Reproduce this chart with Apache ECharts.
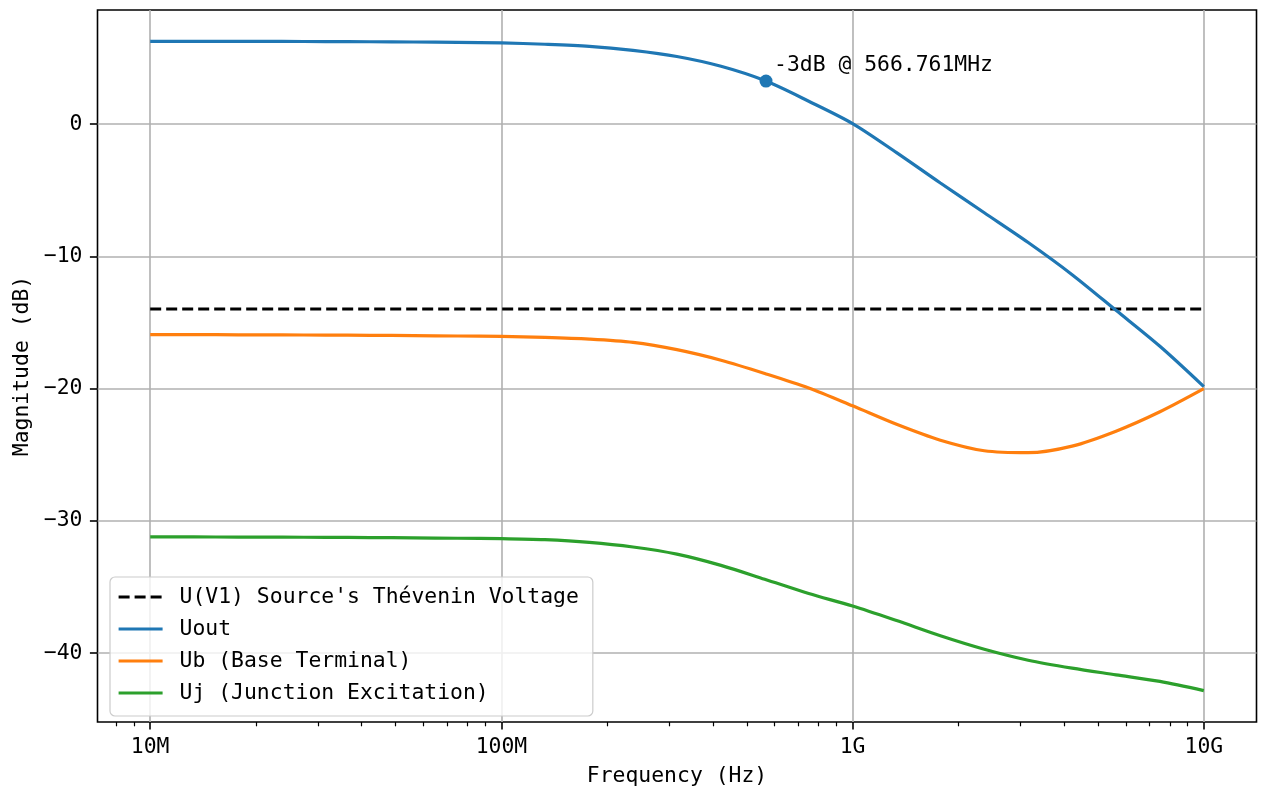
<!DOCTYPE html>
<html>
<head>
<meta charset="utf-8">
<script src="https://cdn.jsdelivr.net/npm/echarts@6/dist/echarts.min.js"></script>
<style>
  html, body { margin: 0; padding: 0; background: #ffffff; }
  #chart { width: 1261px; height: 792px; }
</style>
</head>
<body>
<div id="chart"></div>
<script>
// Frequency response of the transistor stage (magnitudes in dB)

// Sample frequencies (Hz), eight per decade from 10 MHz to 10 GHz
const freqHz = [
  10.0e6, 13.3e6, 17.8e6, 23.7e6, 31.6e6, 42.2e6, 56.2e6, 75.0e6,
  100e6, 133e6, 178e6, 237e6, 316e6, 422e6, 562e6, 750e6,
  1.000e9, 1.334e9, 1.778e9, 2.371e9, 3.162e9, 4.217e9, 5.623e9, 7.499e9,
  10.0e9
];

// Thevenin source voltage level (flat reference)
const thevFreq = [10e6, 10e9];
const thevDb = [-13.98, -13.98];

// Output node
const uoutDb = [
  6.26, 6.26, 6.26, 6.26, 6.25, 6.24, 6.22, 6.19,
  6.15, 6.05, 5.89, 5.58, 5.12, 4.38, 3.30, 1.74,
  0.05, -2.15, -4.45, -6.70, -8.95, -11.38, -14.08, -16.80,
  -19.85
];

// Base terminal
const ubDb = [
  -15.92, -15.92, -15.93, -15.94, -15.95, -15.97, -15.99, -16.02,
  -16.05, -16.12, -16.25, -16.50, -17.05, -17.85, -18.85, -19.95,
  -21.30, -22.70, -23.90, -24.70, -24.85, -24.35, -23.22, -21.75,
  -20.00
];

// Junction excitation
const ujDb = [
  -31.22, -31.22, -31.23, -31.24, -31.25, -31.27, -31.29, -31.32,
  -31.35, -31.43, -31.63, -31.98, -32.52, -33.37, -34.42, -35.50,
  -36.45, -37.55, -38.70, -39.72, -40.55, -41.15, -41.65, -42.15,
  -42.85
];

// -3 dB corner of the output
const cornerFreq = 566.761e6;

const seriesNames = ["U(V1) Source's Th\u00e9venin Voltage", 'Uout', 'Ub (Base Terminal)', 'Uj (Junction Excitation)'];

// Axis ticks
const xMajor = [1e7, 1e8, 1e9, 1e10];
const xMajorLabels = ['10M', '100M', '1G', '10G'];
const yTicks = [-40, -30, -20, -10, 0];

const X_MIN = Math.pow(10, 6.85);
const X_MAX = Math.pow(10, 10.15);

const xMinor = [];
for (let e = 6; e <= 9; e++) {
  for (let m = 2; m <= 9; m++) {
    const v = m * Math.pow(10, e);
    if (v > X_MIN && v < X_MAX) xMinor.push(v);
  }
}

const FONT = '"DejaVu Sans Mono", monospace';
const FS = 21.4;
const LW = 3.2;

const pairs = (xs, ys) => xs.map((x, i) => [x, ys[i]]);

const chart = echarts.init(document.getElementById('chart'), null, { renderer: 'canvas' });

const xBase = {
  type: 'log',
  logBase: 10,
  min: X_MIN,
  max: X_MAX,
  position: 'bottom',
  axisLine: { show: false, onZero: false }
};

chart.setOption({
  animation: false,
  backgroundColor: '#ffffff',
  textStyle: { fontFamily: FONT },
  grid: {
    left: 97.5, right: 4.5, top: 10, bottom: 67,
    show: true, borderColor: '#000000', borderWidth: 1.6, backgroundColor: '#ffffff'
  },
  legend: {
    data: seriesNames,
    orient: 'vertical',
    left: 110, top: 577,
    padding: [9, 14, 12, 7],
    itemWidth: 44, itemHeight: 22, itemGap: 10,
    backgroundColor: 'rgba(255,255,255,0.8)',
    borderColor: '#cccccc', borderWidth: 1.2, borderRadius: 5,
    itemStyle: { opacity: 0, borderWidth: 0 },
    lineStyle: { width: LW },
    textStyle: { fontFamily: FONT, fontSize: FS, color: '#000000', lineHeight: 22, padding: [0, 0, 0, 12] }
  },
  xAxis: [
    Object.assign({}, xBase, {
      name: 'Frequency (Hz)',
      nameLocation: 'middle',
      nameGap: 44,
      nameTextStyle: { fontFamily: FONT, fontSize: FS, color: '#000000' },
      axisTick: { customValues: xMajor, length: 7.6, lineStyle: { color: '#000000', width: 1.6 } },
      axisLabel: {
        customValues: xMajor, margin: 15,
        fontFamily: FONT, fontSize: FS, color: '#000000',
        formatter: v => xMajorLabels[xMajor.findIndex(t => Math.abs(Math.log10(t) - Math.log10(v)) < 1e-6)] || ''
      },
      splitLine: { show: true, lineStyle: { color: '#b0b0b0', width: 1.6 } },
      minorTick: { show: false },
      minorSplitLine: { show: false }
    }),
    Object.assign({}, xBase, {
      axisTick: { customValues: xMinor, length: 4.3, lineStyle: { color: '#000000', width: 1.2 } },
      axisLabel: { show: false },
      splitLine: { show: false }
    })
  ],
  yAxis: {
    type: 'value',
    min: -45.22, max: 8.64,
    name: 'Magnitude (dB)',
    nameLocation: 'middle',
    nameGap: 61,
    nameRotate: 90,
    nameTextStyle: { fontFamily: FONT, fontSize: FS, color: '#000000' },
    axisLine: { show: false, onZero: false },
    axisTick: { customValues: yTicks, length: 7.6, lineStyle: { color: '#000000', width: 1.6 } },
    axisLabel: {
      customValues: yTicks, margin: 15,
      fontFamily: FONT, fontSize: FS, color: '#000000',
      formatter: v => (v < 0 ? '\u2212' + Math.abs(v) : String(v))
    },
    splitLine: { show: true, lineStyle: { color: '#b0b0b0', width: 1.6 } }
  },
  series: [
    {
      name: seriesNames[0], type: 'line', xAxisIndex: 0,
      data: pairs(thevFreq, thevDb), symbol: 'none',
      lineStyle: { color: '#000000', width: LW, type: [11, 5] },
      itemStyle: { color: '#000000' }, z: 3
    },
    {
      name: seriesNames[1], type: 'line', xAxisIndex: 0,
      data: pairs(freqHz, uoutDb), symbol: 'none', smooth: 0.3,
      lineStyle: { color: '#1f77b4', width: LW }, itemStyle: { color: '#1f77b4' }, z: 4
    },
    {
      name: seriesNames[2], type: 'line', xAxisIndex: 0,
      data: pairs(freqHz, ubDb), symbol: 'none', smooth: 0.3,
      lineStyle: { color: '#ff7f0e', width: LW }, itemStyle: { color: '#ff7f0e' }, z: 5
    },
    {
      name: seriesNames[3], type: 'line', xAxisIndex: 0,
      data: pairs(freqHz, ujDb), symbol: 'none', smooth: 0.3,
      lineStyle: { color: '#2ca02c', width: LW }, itemStyle: { color: '#2ca02c' }, z: 6
    },
    {
      name: 'corner', type: 'scatter', xAxisIndex: 0,
      data: [[cornerFreq, uoutDb[0] - 3]],
      symbol: 'circle', symbolSize: 13,
      itemStyle: { color: '#1f77b4', opacity: 1 }, z: 7,
      label: {
        show: true,
        position: [14.5, -9.5],
        align: 'left', verticalAlign: 'middle',
        fontFamily: FONT, fontSize: FS, color: '#000000', opacity: 1,
        formatter: p => '-3dB @ ' + (p.value[0] / 1e6).toFixed(3) + 'MHz'
      }
    }
  ]
});
</script>
</body>
</html>
